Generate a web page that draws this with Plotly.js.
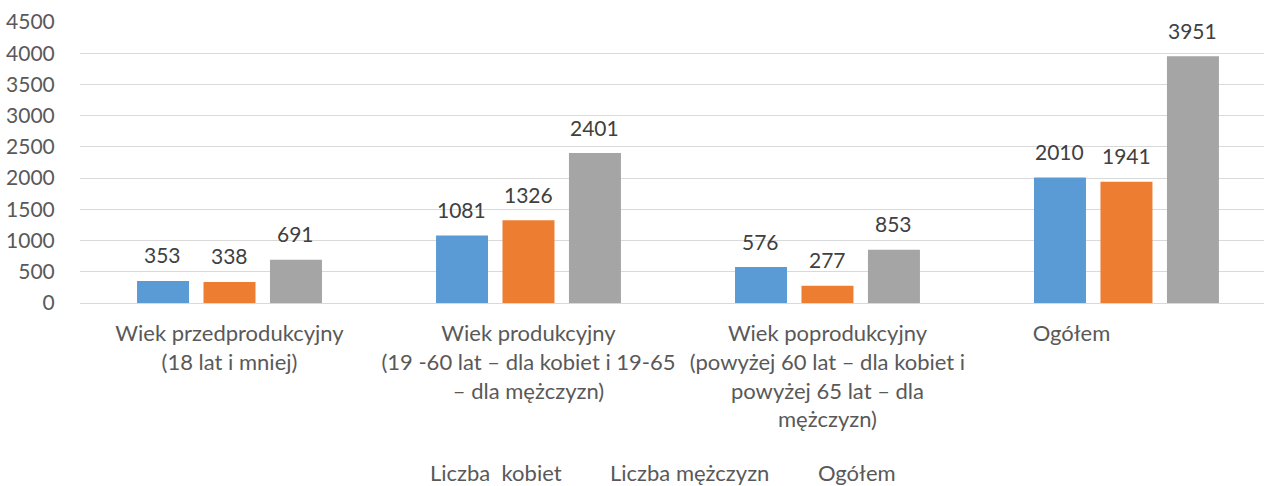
<!DOCTYPE html>
<html>
<head>
<meta charset="utf-8">
<script src="https://cdn.plot.ly/plotly-3.0.1.min.js"></script>
<style>html,body{margin:0;padding:0;background:#fff;}#chart{width:1264px;height:486px;}</style>
</head>
<body>
<div id="chart"></div>
<script>
const categories = ["Wiek przedprodukcyjny", "Wiek produkcyjny", "Wiek poprodukcyjny", "Ogółem"];
const tickLabels = [
  "Wiek przedprodukcyjny<br>(18 lat i mniej)",
  "Wiek produkcyjny<br>(19 -60 lat – dla kobiet i 19-65<br>– dla mężczyzn)",
  "Wiek poprodukcyjny<br>(powyżej 60 lat – dla kobiet i<br>powyżej 65 lat – dla<br>mężczyzn)",
  "Ogółem\u2003\u2003\u2003\u2003\u2003\u2003\u2002"
];
const seriesNames = ["Liczba  kobiet", "Liczba mężczyzn", "Ogółem"];
const kobiety = [353, 1081, 576, 2010];
const mezczyzni = [338, 1326, 277, 1941];
const ogolem = [691, 2401, 853, 3951];
const yTicks = [0, 500, 1000, 1500, 2000, 2500, 3000, 3500, 4000, 4500];

const colors = ["#5B9BD5", "#ED7D31", "#A5A5A5"];
const values = [kobiety, mezczyzni, ogolem];
const fontFam = "Lato, Carlito, 'Open Sans', sans-serif";

const traces = values.map((v, i) => ({
  type: "bar",
  name: seriesNames[i],
  x: categories,
  y: v,
  marker: {color: colors[i]},
  hoverinfo: "x+y"
}));

// data labels, anchored to each bar's value through the axes
const slotPx = 66.5;
const annotations = [];
values.forEach((v, i) => {
  v.forEach((val, j) => {
    annotations.push({
      x: categories[j], y: val, xref: "x", yref: "y",
      text: String(val), showarrow: false,
      xanchor: "center", yanchor: "middle",
      xshift: (i - 1) * slotPx, yshift: 26,
      font: {family: fontFam, size: 21, color: "#404040"}
    });
  });
});

const legendX = [0.351, 0.515, 0.656];
seriesNames.forEach((n, i) => annotations.push({
  text: n, xref: "paper", yref: "paper", x: legendX[i], y: -0.603,
  xanchor: "center", yanchor: "middle", showarrow: false,
  font: {family: fontFam, size: 22, color: "#595959"}
}));

const layout = {
  width: 1264, height: 486,
  margin: {l: 80, r: 0, t: 22, b: 183},
  paper_bgcolor: "#fff", plot_bgcolor: "#fff",
  showlegend: false,
  barmode: "group",
  bargap: 0.333,
  bargroupgap: 0.218,
  font: {family: fontFam, size: 21, color: "#595959"},
  xaxis: {
    type: "category",
    range: [-0.5, 3.46],
    tickvals: categories,
    ticktext: tickLabels,
    showgrid: false, zeroline: false, showline: false,
    ticks: "outside", ticklen: 11, tickcolor: "rgba(0,0,0,0)",
    tickangle: 0,
    tickfont: {family: fontFam, size: 22, color: "#595959"}
  },
  yaxis: {
    range: [0, 4500],
    tickvals: yTicks,
    ticktext: yTicks.map(String),
    showgrid: true, gridcolor: "#d9d9d9", gridwidth: 1,
    zeroline: true, zerolinecolor: "#d9d9d9", zerolinewidth: 1,
    showline: false,
    ticks: "outside", ticklen: 20, tickcolor: "rgba(0,0,0,0)",
    tickfont: {family: fontFam, size: 21, color: "#595959"}
  },
  annotations: annotations
};

Plotly.newPlot("chart", traces, layout, {displayModeBar: false, staticPlot: true});
</script>
</body>
</html>
